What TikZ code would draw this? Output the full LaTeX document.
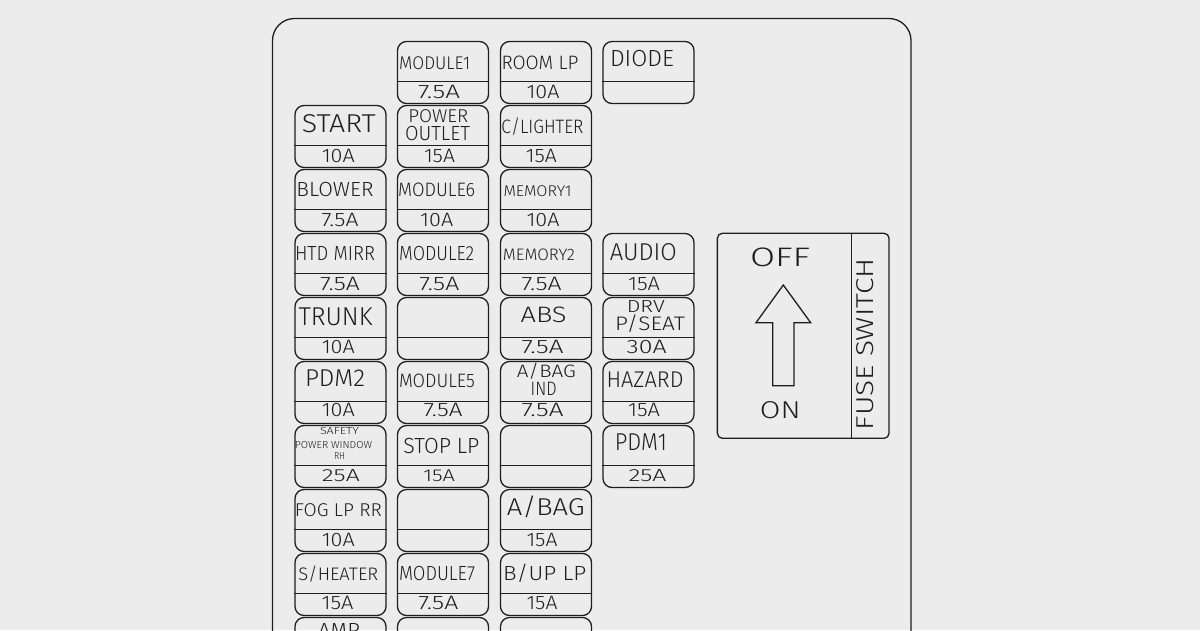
\documentclass[tikz,border=0pt]{standalone}
\usepackage{graphicx}
\usepackage{fontspec}
\setmainfont{Fira Sans}[UprightFont=* Light]
\definecolor{bg}{RGB}{236,236,236}
\definecolor{ink}{RGB}{30,30,30}
\tikzset{
  fusebox/.style={draw=ink, line width=1.3pt, rounded corners=9pt, minimum width=91pt, minimum height=62pt, inner sep=0pt},
  divline/.style={draw=ink, line width=1.2pt},
  lbl/.style={inner sep=0pt, outer sep=0pt, text=ink, anchor=base},
  frame/.style={draw=ink, line width=1.3pt}
}
\newcommand\fz[3]{\node[fusebox] (#1) at (#2,#3) {};
  \draw[divline] ([yshift=-40.5pt]#1.north west) -- ([yshift=-40.5pt]#1.north east);}
\newcommand\capbox[1]{\raisebox{0pt}[\fontcharht\font`A][0pt]{#1}}
\newcommand\lab[6]{\node[lbl] (#1) at (#2,#3) {\resizebox{#4pt}{#5pt}{\capbox{#6}}};}
\begin{document}
\begin{tikzpicture}[x=1pt,y=-1pt]
\fill[bg] (0,0) rectangle (1200,630);
\useasboundingbox (0,0) rectangle (1200,630);
\clip (0,0) rectangle (1200,630);
% outer frame
\draw[frame, rounded corners=22pt] (272.5,700) -- (272.5,18.5) -- (911,18.5) -- (911,700);
% column 1
\fz{a1}{340.5}{136.5}
\fz{a2}{340.5}{200.5}
\fz{a3}{340.5}{264.5}
\fz{a4}{340.5}{328.5}
\fz{a5}{340.5}{392.5}
\fz{a6}{340.5}{456.5}
\fz{a7}{340.5}{520.5}
\fz{a8}{340.5}{584.5}
\fz{a9}{340.5}{648.5}
% column 2
\fz{b0}{443}{72.5}
\fz{b1}{443}{136.5}
\fz{b2}{443}{200.5}
\fz{b3}{443}{264.5}
\fz{b4}{443}{328.5}
\fz{b5}{443}{392.5}
\fz{b6}{443}{456.5}
\fz{b7}{443}{520.5}
\fz{b8}{443}{584.5}
\fz{b9}{443}{648.5}
% column 3
\fz{c0}{546}{72.5}
\fz{c1}{546}{136.5}
\fz{c2}{546}{200.5}
\fz{c3}{546}{264.5}
\fz{c4}{546}{328.5}
\fz{c5}{546}{392.5}
\fz{c6}{546}{456.5}
\fz{c7}{546}{520.5}
\fz{c8}{546}{584.5}
\fz{c9}{546}{648.5}
% column 4
\fz{d0}{648.5}{72.5}
\fz{d3}{648.5}{264.5}
\fz{d4}{648.5}{328.5}
\fz{d5}{648.5}{392.5}
\fz{d6}{648.5}{456.5}
% labels column 1
\lab{ta1}{338.8}{132.7}{74}{17.7}{START}
\lab{ra1}{338.3}{162.7}{33}{13.3}{10A}
\lab{ta2}{335}{196.7}{77}{14}{BLOWER}
\lab{ra2}{340}{226}{37}{13.3}{7.5A}
\lab{ta3}{335}{260.7}{80}{14}{HTD MIRR}
\lab{ra3}{340}{290}{40}{13.3}{7.5A}
\lab{ta4}{335.5}{325}{74}{17.7}{TRUNK}
\lab{ra4}{338.3}{353.3}{33}{13.3}{10A}
\lab{ta5}{335}{386.7}{60}{16.7}{PDM2}
\lab{ra5}{338.3}{416.7}{33}{13.3}{10A}
\lab{ta6}{339.5}{434}{39}{7}{SAFETY}
\lab{tb6}{333.5}{448}{77}{7}{POWER WINDOW}
\lab{tc6}{339.5}{459}{11}{7}{RH}
\lab{ra6}{340.8}{481.7}{38}{12}{25A}
\lab{ta7}{338.3}{516.7}{87}{12.7}{FOG LP RR}
\lab{ra7}{338.3}{546}{33}{13.3}{10A}
\lab{ta8}{338.3}{580.7}{80}{12.4}{S/HEATER}
\lab{ra8}{337.5}{609.3}{32}{13.3}{15A}
\lab{ta9}{339}{637.3}{42}{14}{AMP}
% labels column 2
\lab{tb0}{434.7}{69.3}{71}{12.6}{MODULE1}
\lab{rb0}{439}{98.3}{42}{13.3}{7.5A}
\lab{tb1}{438.3}{122.7}{60}{12.7}{POWER}
\lab{ub1}{437.5}{140}{65}{14}{OUTLET}
\lab{rb1}{439.5}{162.7}{31}{13.3}{15A}
\lab{tb2}{436.7}{196}{77}{13.3}{MODULE6}
\lab{rb2}{436.7}{226}{33}{13.3}{10A}
\lab{tb3}{436.7}{260.7}{75}{14}{MODULE2}
\lab{rb3}{439.3}{290}{40}{13.3}{7.5A}
\lab{tb5}{437}{387.3}{76}{13.3}{MODULE5}
\lab{rb5}{443}{416.7}{39}{13.3}{7.5A}
\lab{tb6x}{441.3}{453.3}{76}{15}{STOP LP}
\lab{rb6}{439}{481.7}{32}{11.7}{15A}
\lab{tb8}{437}{580.7}{76}{14}{MODULE7}
\lab{rb8}{438.3}{609.3}{40}{13.3}{7.5A}
% labels column 3
\lab{tc0}{540}{69.3}{77}{13.3}{ROOM LP}
\lab{rc0}{543}{98.3}{33}{13.3}{10A}
\lab{tc1}{542.5}{133.3}{82}{13.3}{C/LIGHTER}
\lab{rc1}{541.3}{162.7}{31}{13.3}{15A}
\lab{tc2}{537.5}{196.7}{68}{10.7}{MEMORY1}
\lab{rc2}{543}{226}{33}{13.3}{10A}
\lab{tc3}{539}{260.7}{72}{11.4}{MEMORY2}
\lab{rc3}{541.7}{290}{40}{13.3}{7.5A}
\lab{tc4}{543.7}{322.7}{46}{15.3}{ABS}
\lab{rc4}{542.5}{353.3}{42}{13.3}{7.5A}
\lab{tc5}{546.3}{377.3}{59}{12.3}{A/BAG}
\lab{uc5}{543.7}{395}{26}{13.3}{IND}
\lab{rc5}{542.5}{416.7}{42}{13.3}{7.5A}
\lab{tc7}{545.8}{515}{78}{16.7}{A/BAG}
\lab{rc7}{542}{546}{31}{13.3}{15A}
\lab{tc8}{544.7}{580}{83}{14}{B/UP LP}
\lab{rc8}{542}{609.3}{31}{13.3}{15A}
% labels column 4
\lab{td0}{642}{66}{64}{16}{DIODE}
\lab{td3}{643.3}{260.7}{67}{16.7}{AUDIO}
\lab{rd3}{644}{290}{32}{13.3}{15A}
\lab{td4}{645.8}{312.7}{38}{12}{DRV}
\lab{ud4}{650}{330.7}{70}{13.4}{P/SEAT}
\lab{rd4}{646.7}{353.3}{40}{13.3}{30A}
\lab{td5}{645}{387.3}{77}{15.6}{HAZARD}
\lab{rd5}{644}{416.7}{32}{13.3}{15A}
\lab{td6}{640.8}{450}{52}{16.7}{PDM1}
\lab{rd6}{647.5}{481.7}{38}{12}{25A}
% fuse switch
\node[draw=ink, line width=1.3pt, rounded corners=5pt, minimum width=171.7pt, minimum height=205pt, inner sep=0pt] (sw) at (803.2,335.8) {};
\draw[divline] ([xshift=-38.3pt]sw.north east) -- ([xshift=-38.3pt]sw.south east);
\lab{off}{780}{266.7}{60}{18.3}{OFF}
\lab{on}{780.3}{418.3}{40.7}{16.7}{ON}
\node[lbl, rotate=90] (fs) at (873.3,344.2) {\resizebox{171.7pt}{16.7pt}{\capbox{FUSE SWITCH}}};
\draw[ink, line width=1.3pt, line join=miter] (783.3,285) -- (810.7,322.7) -- (794,322.7) -- (794,385.7) -- (772.7,385.7) -- (772.7,322.7) -- (756,322.7) -- cycle;
\end{tikzpicture}
\end{document}
